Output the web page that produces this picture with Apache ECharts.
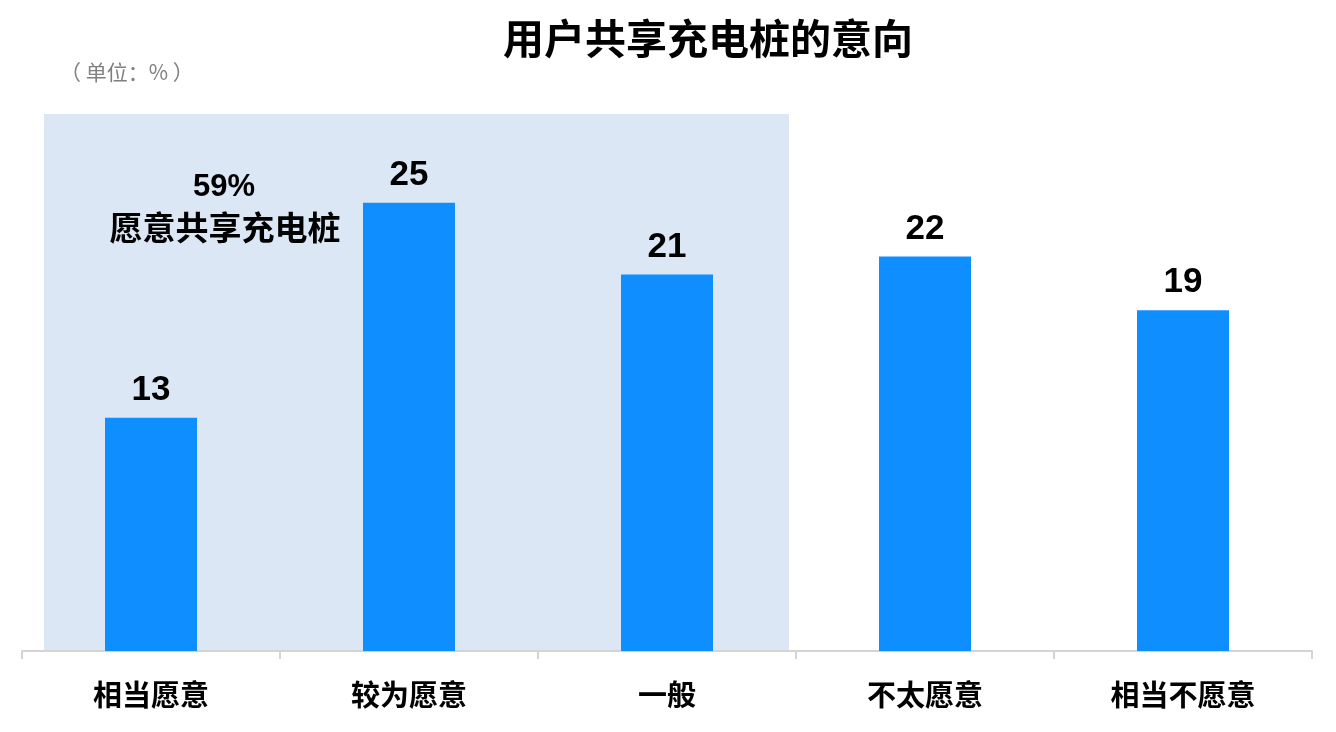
<!DOCTYPE html>
<html>
<head>
<meta charset="utf-8">
<script src="https://cdn.jsdelivr.net/npm/echarts@6.0.0/dist/echarts.min.js"></script>
<style>
  html, body { margin: 0; padding: 0; background: #fff; }
  #chart { width: 1336px; height: 732px; }
</style>
</head>
<body>
<div id="chart"></div>
<script>
// chart data
const categories = ['相当愿意', '较为愿意', '一般', '不太愿意', '相当不愿意'];
const shares = [13, 25, 21, 22, 19];
const willingTotal = '59%';
const willingLabel = '愿意共享充电桩';
const unitText = '（ 单位：% ）';
const titleText = '用户共享充电桩的意向';

const CJK = '"Noto Sans CJK SC", "Liberation Sans", sans-serif';
const LATIN = '"Liberation Sans", Arial, sans-serif';

const chart = echarts.init(document.getElementById('chart'));

const option = {
    backgroundColor: '#fff',
    animation: false,
    title: {
        text: titleText,
        left: 498,
        top: 13,
        textStyle: { fontFamily: CJK, fontSize: 41, fontWeight: 'bold', color: '#000' }
    },
    grid: { left: 22, right: 24, top: 113, bottom: 81, containLabel: false },
    xAxis: {
        type: 'category',
        data: categories,
        axisLine: { lineStyle: { color: '#d4d4d4', width: 2 } },
        axisTick: { show: true, length: 8, lineStyle: { color: '#d4d4d4', width: 2 } },
        axisLabel: {
            margin: 29,
            fontFamily: CJK,
            fontSize: 29,
            fontWeight: 'bold',
            color: '#000'
        }
    },
    yAxis: {
        type: 'value',
        min: 0,
        max: 30,
        show: false,
        splitLine: { show: false }
    },
    series: [{
        type: 'bar',
        data: shares,
        barWidth: 92,
        itemStyle: { color: '#0f8fff' },
        label: {
            show: true,
            position: 'top',
            distance: 10,
            fontFamily: LATIN,
            fontSize: 35,
            fontWeight: 'bold',
            color: '#000'
        },
        z: 3
    }],
    graphic: [
        {
            type: 'rect',
            z: 0,
            silent: true,
            shape: { x: 44, y: 114, width: 745, height: 537 },
            style: { fill: '#dbe7f4' }
        },
        {
            type: 'text',
            left: 60,
            top: 62,
            style: { text: unitText, fill: '#808080', font: '21px ' + CJK }
        },
        {
            type: 'text',
            x: 224,
            y: 187,
            z: 5,
            style: {
                text: willingTotal,
                fill: '#000',
                font: 'bold 31px ' + LATIN,
                align: 'center',
                verticalAlign: 'middle'
            }
        },
        {
            type: 'text',
            x: 225,
            y: 227,
            z: 5,
            style: {
                text: willingLabel,
                fill: '#000',
                font: 'bold 33px ' + CJK,
                align: 'center',
                verticalAlign: 'middle'
            }
        }
    ]
};

chart.setOption(option);
window.addEventListener('resize', () => chart.resize());
</script>
</body>
</html>
